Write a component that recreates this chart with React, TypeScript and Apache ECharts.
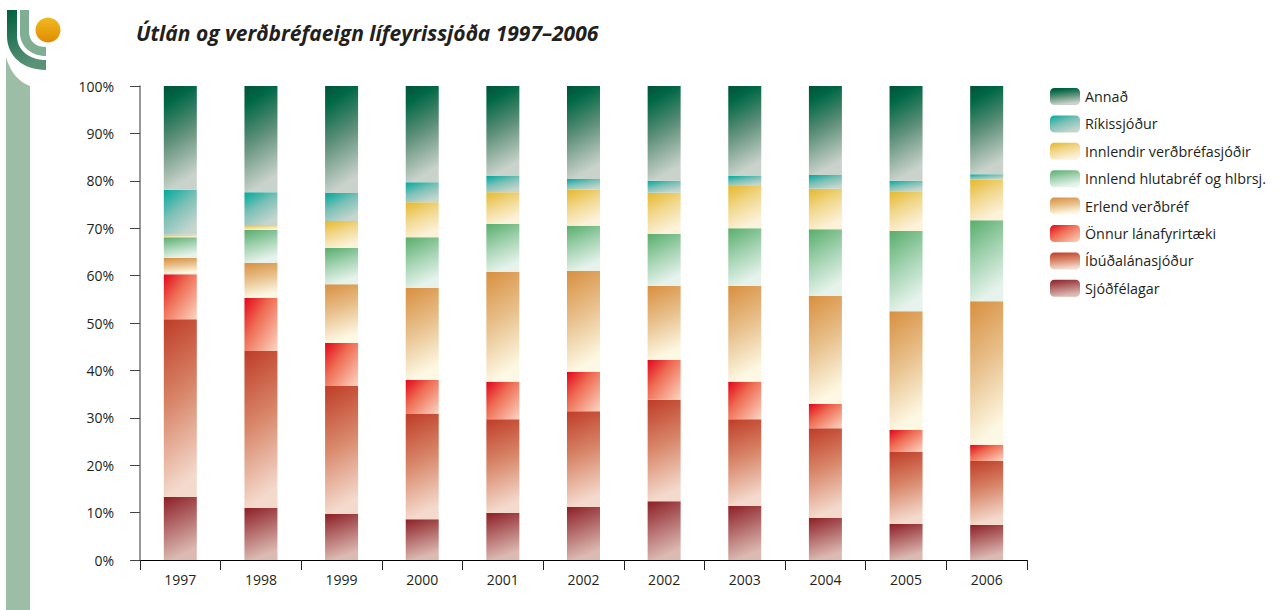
import React, { useEffect, useRef } from "react";
import * as echarts from "echarts";

const categories = ["1997", "1998", "1999", "2000", "2001", "2002", "2002", "2003", "2004", "2005", "2006"];
const yTickLabels = ["0%", "10%", "20%", "30%", "40%", "50%", "60%", "70%", "80%", "90%", "100%"];

const sjodfelagar = [13.3, 11.0, 9.7, 8.6, 9.9, 11.2, 12.4, 11.4, 8.9, 7.6, 7.4];
const ibudalanasjodur = [37.5, 33.1, 27.0, 22.2, 19.8, 20.2, 21.4, 18.3, 18.9, 15.2, 13.5];
const onnurLanafyrirtaeki = [9.5, 11.2, 9.1, 7.2, 7.9, 8.3, 8.4, 7.9, 5.1, 4.6, 3.4];
const erlendVerdbref = [3.4, 7.4, 12.4, 19.4, 23.2, 21.3, 15.6, 20.2, 22.8, 25.1, 30.3];
const innlendHlutabref = [4.4, 6.9, 7.6, 10.7, 10.1, 9.5, 11.0, 12.2, 14.1, 16.9, 17.1];
const innlendirVerdbrefasjodir = [0.5, 1.1, 5.7, 7.4, 6.7, 7.6, 8.7, 8.9, 8.5, 8.4, 8.5];
const rikissjodur = [9.5, 6.9, 5.9, 4.2, 3.4, 2.3, 2.5, 2.1, 2.9, 2.2, 1.2];
const annad = [21.9, 22.4, 22.6, 20.3, 19.0, 19.6, 20.0, 19.0, 18.8, 20.0, 18.6];

const seriesNames = [
  "Sjóðfélagar",
  "Íbúðalánasjóður",
  "Önnur lánafyrirtæki",
  "Erlend verðbréf",
  "Innlend hlutabréf og hlbrsj.",
  "Innlendir verðbréfasjóðir",
  "Ríkissjóður",
  "Annað",
];
const seriesData = [
  sjodfelagar,
  ibudalanasjodur,
  onnurLanafyrirtaeki,
  erlendVerdbref,
  innlendHlutabref,
  innlendirVerdbrefasjodir,
  rikissjodur,
  annad,
];

const FONT = "'Open Sans', 'Noto Sans', sans-serif";

function grad(x2: number, y2: number, stops: [number, string][]) {
  return {
    type: "linear",
    x: 0,
    y: 0,
    x2,
    y2,
    colorStops: stops.map(([offset, color]) => ({ offset, color })),
  };
}

const fills = [
  grad(0.25, 1, [[0, "#8c1f26"], [1, "#dcbab2"]]),
  grad(0.15, 1, [[0, "#bf3c27"], [0.5, "#d8876a"], [1, "#f4dacd"]]),
  grad(1, 1, [[0, "#e3051b"], [0.4, "#ee6b52"], [1, "#fcd6c3"]]),
  grad(0.2, 1, [[0, "#d88f3f"], [0.5, "#e8c08c"], [1, "#fdf8e3"]]),
  grad(0.3, 1, [[0, "#58ad6c"], [0.5, "#a2d2b0"], [1, "#e6f3ec"]]),
  grad(0.4, 1, [[0, "#e5b82c"], [0.5, "#f1d88e"], [1, "#fcf1d9"]]),
  grad(0.6, 1, [[0, "#00a99d"], [0.5, "#7cc0b6"], [1, "#c5d6ce"]]),
  grad(0.2, 1, [[0, "#00523a"], [0.18, "#006846"], [0.55, "#5f907a"], [1, "#cad3cb"]]),
];

echarts.graphic.registerShape(
  "logoDark",
  echarts.graphic.extendPath("M7,10 L17,10 L17,36 C17,50 29,60 46,60 L46,70 C23,70 7,56 7,36 Z", {})
);
echarts.graphic.registerShape(
  "logoLight",
  echarts.graphic.extendPath("M20,10 L29,10 L29,31 C29,41 35,47 46,47 L46,56 C31,56 20,46 20,33 Z", {})
);
echarts.graphic.registerShape(
  "logoStrip",
  echarts.graphic.extendPath("M6,57 C10,72 19,82 30,86 L30,610 L6,610 Z", {})
);

export default function App() {
  const ref = useRef<HTMLDivElement>(null);

  useEffect(() => {
    document.body.style.margin = "0";
    if (!ref.current) return;
    const chart = echarts.init(ref.current, null, { renderer: "svg" });

    const series = seriesNames.map((name, i) => ({
      name,
      type: "bar",
      stack: "total",
      barWidth: 33,
      data: seriesData[i],
      itemStyle: { color: fills[i] },
      emphasis: { disabled: true },
    }));

    chart.setOption({
      animation: false,
      backgroundColor: "#ffffff",
      title: {
        text: "Útlán og verðbréfaeign lífeyrissjóða 1997–2006",
        left: 131,
        top: 17,
        textStyle: {
          fontFamily: FONT,
          fontSize: 21,
          fontWeight: "bold",
          fontStyle: "italic",
          color: "#231f20",
        },
      },
      legend: {
        orient: "vertical",
        left: 1045,
        top: 83,
        itemWidth: 30,
        itemHeight: 17,
        itemGap: 10.4,
        data: [...seriesNames].reverse(),
        textStyle: { fontFamily: FONT, fontSize: 14.3, color: "#231f20" },
        selectedMode: false,
      },
      grid: { left: 140, right: 260, top: 86, bottom: 50, containLabel: false },
      xAxis: {
        type: "category",
        data: categories,
        axisLine: { lineStyle: { color: "#000000", width: 1 } },
        axisTick: { show: true, length: 10, lineStyle: { color: "#222222" } },
        axisLabel: { fontFamily: FONT, fontSize: 14, color: "#231f20", margin: 12 },
      },
      yAxis: {
        type: "value",
        min: 0,
        max: 100,
        interval: 10,
        axisLine: { show: true, lineStyle: { color: "#777777", width: 1.5 } },
        axisTick: { show: true, length: 10, lineStyle: { color: "#444444" } },
        splitLine: { show: false },
        axisLabel: {
          fontFamily: FONT,
          fontSize: 14,
          color: "#231f20",
          margin: 26,
          formatter: (v: number) => yTickLabels[Math.round(v / 10)],
        },
      },
      graphic: [
        { type: "logoStrip", x: 0, y: 0, style: { fill: "#9dbea6" }, silent: true },
        {
          type: "logoDark",
          x: 0,
          y: 0,
          style: { fill: grad(0.3, 1, [[0, "#00603f"], [1, "#5a9278"]]) },
          silent: true,
        },
        { type: "logoLight", x: 0, y: 0, style: { fill: "#7fae93" }, silent: true },
        {
          type: "circle",
          shape: { cx: 48, cy: 30, r: 12.5 },
          style: { fill: grad(0, 1, [[0, "#f0bb22"], [1, "#e08b00"]]) },
          silent: true,
        },
      ],
      series,
    });

    return () => chart.dispose();
  }, []);

  return <div ref={ref} style={{ width: 1287, height: 610 }} />;
}
